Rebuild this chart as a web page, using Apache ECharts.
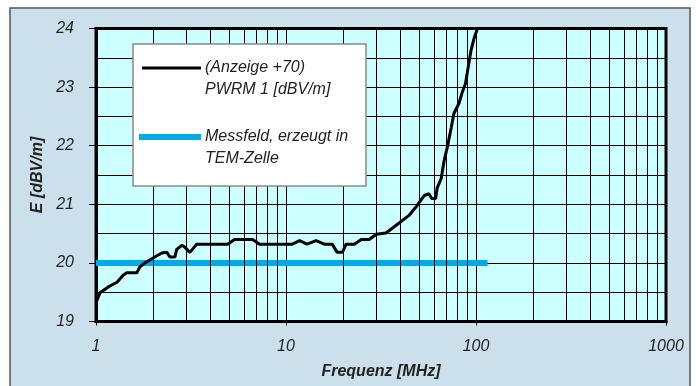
<!DOCTYPE html>
<html>
<head>
<meta charset="utf-8">
<script src="https://cdn.jsdelivr.net/npm/echarts@6/dist/echarts.min.js"></script>
<style>html,body{margin:0;padding:0;background:#fff;}#c{width:696px;height:386px;}</style>
</head>
<body>
<div id="c"></div>
<script>
const freq = [1, 1.05, 1.16, 1.29, 1.39, 1.45, 1.64, 1.7, 1.81, 2.04, 2.22, 2.36, 2.45, 2.6, 2.66, 2.83, 2.93, 3.12, 3.39, 4.93, 5.36, 6.67, 7.25, 10.8, 11.8, 12.9, 14.4, 15.9, 17.5, 18.6, 19.8, 20.7, 22.9, 24.9, 27.4, 29.9, 33.6, 39.4, 44.4, 49.0, 53.4, 56.5, 58.5, 61.3, 62.5, 65.6, 68.0, 70.6, 74.1, 76.5, 81.3, 84.2, 88.1, 90.3, 94.2, 97.7, 101, 104];
const pwrmValues = [19.32, 19.49, 19.59, 19.67, 19.79, 19.83, 19.83, 19.93, 20.0, 20.1, 20.17, 20.18, 20.1, 20.1, 20.23, 20.3, 20.27, 20.18, 20.32, 20.32, 20.4, 20.4, 20.32, 20.32, 20.38, 20.32, 20.38, 20.32, 20.32, 20.18, 20.18, 20.32, 20.32, 20.4, 20.4, 20.49, 20.51, 20.68, 20.81, 20.98, 21.15, 21.18, 21.1, 21.1, 21.28, 21.44, 21.75, 21.97, 22.31, 22.55, 22.72, 22.89, 23.06, 23.28, 23.63, 23.83, 23.97, 24.05];
const temFreq = [1, 115];
const temValues = [20, 20];
const minorGridFreqs = [2,3,4,5,6,7,8,9,20,30,40,50,60,70,80,90,200,300,400,500,600,700,800,900];
const xTickLabels = ['1', '10', '100', '1000'];
const seriesNames = ['(Anzeige +70)\nPWRM 1 [dBV/m]', 'Messfeld, erzeugt in\nTEM-Zelle'];

const chart = echarts.init(document.getElementById('c'), null, {renderer: 'canvas'});
const fontFam = '"Liberation Sans", Arial, sans-serif';
const option = {
  backgroundColor: '#ffffff',
  animation: false,
  graphic: [
    {type: 'rect', z: -10, shape: {x: 10, y: 8, width: 680, height: 390},
     style: {fill: '#cce0ec', stroke: '#555', lineWidth: 1.5}},
    {type: 'rect', z: 100, shape: {x: 133, y: 44, width: 233, height: 142},
     style: {fill: '#ffffff', stroke: '#8a8a8a', lineWidth: 1.5}},
    {type: 'line', z: 101, shape: {x1: 142, y1: 68, x2: 201, y2: 68}, style: {stroke: '#000', lineWidth: 3}},
    {type: 'line', z: 101, shape: {x1: 139, y1: 137, x2: 201, y2: 137}, style: {stroke: '#00aae6', lineWidth: 6}},
    {type: 'text', z: 101, x: 205, y: 57, style: {text: seriesNames[0], font: 'italic 16px ' + fontFam, fill: '#222', lineHeight: 22}},
    {type: 'text', z: 101, x: 205, y: 126, style: {text: seriesNames[1], font: 'italic 16px ' + fontFam, fill: '#222', lineHeight: 22}}
  ],
  grid: {left: 96, right: 30, top: 28.5, bottom: 64.5, show: true, backgroundColor: '#ccffff', borderColor: '#000', borderWidth: 3, containLabel: false},
  xAxis: {
    type: 'log', logBase: 10, min: 1, max: 1000,
    name: 'Frequenz [MHz]', nameLocation: 'middle', nameGap: 42,
    nameTextStyle: {fontFamily: fontFam, fontStyle: 'italic', fontWeight: 'bold', fontSize: 16, color: '#222'},
    axisLine: {show: true, lineStyle: {color: '#000', width: 3}},
    axisTick: {show: true, length: 4, lineStyle: {color: '#000', width: 1}},
    axisLabel: {fontFamily: fontFam, fontStyle: 'italic', fontSize: 16, color: '#222', margin: 17,
      formatter: function (v) { const s = String(Math.round(v)); return xTickLabels.indexOf(s) >= 0 ? s : ''; }},
    splitLine: {show: true, lineStyle: {color: '#000', width: 1}}
  },
  yAxis: {
    type: 'value', min: 19, max: 24, interval: 1,
    name: 'E [dBV/m]', nameLocation: 'middle', nameGap: 50,
    nameTextStyle: {fontFamily: fontFam, fontStyle: 'italic', fontWeight: 'bold', fontSize: 16, color: '#222'},
    axisLine: {show: true, lineStyle: {color: '#000', width: 3}},
    axisTick: {show: true, length: 7, lineStyle: {color: '#000', width: 1}},
    axisLabel: {fontFamily: fontFam, fontStyle: 'italic', fontSize: 16, color: '#222', margin: 22},
    splitLine: {show: true, lineStyle: {color: '#000', width: 1}},
    minorTick: {show: false, splitNumber: 2},
    minorSplitLine: {show: true, lineStyle: {color: '#000', width: 1}}
  },
  series: [
    {name: 'grid', type: 'line', data: [], z: 1, silent: true,
     markLine: {silent: true, symbol: 'none', label: {show: false}, animation: false,
       lineStyle: {color: '#000', width: 1, type: 'solid'},
       data: minorGridFreqs.map(f => ({xAxis: f}))}},
    {name: seriesNames[1], type: 'line', z: 3, symbol: 'none', showSymbol: false,
     data: temFreq.map((f, i) => [f, temValues[i]]),
     lineStyle: {color: '#00aae6', width: 6}},
    {name: seriesNames[0], type: 'line', z: 4, symbol: 'none', showSymbol: false, clip: true,
     data: freq.map((f, i) => [f, pwrmValues[i]]),
     lineStyle: {color: '#000', width: 3}}
  ]
};
chart.setOption(option);
</script>
</body>
</html>
